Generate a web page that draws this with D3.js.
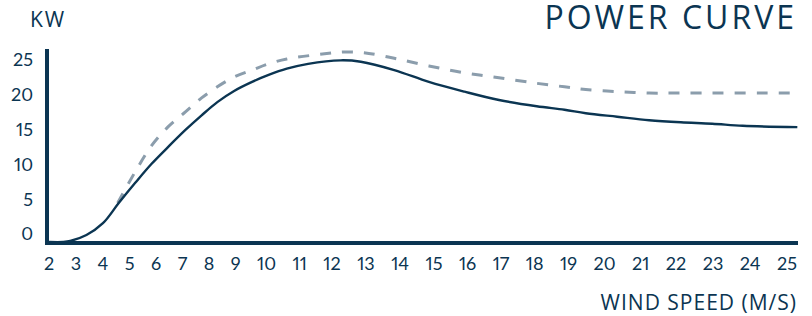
<!DOCTYPE html>
<html>
<head>
<meta charset="utf-8">
<script src="https://cdn.jsdelivr.net/npm/d3@7"></script>
<style>
  body { margin: 0; background: #fff; }
  svg text { font-family: "Open Sans", sans-serif; fill: #0b3552; }
  svg text.tick { font-family: Lato, sans-serif; font-feature-settings: "pnum" 1, "tnum" 0; }
</style>
</head>
<body>
<div id="chart"></div>
<script>
const width = 812, height = 316
const ink = "#0b3552"
const dashInk = "#8b9dac"

// wind speed tick labels (m/s)
const speedTicks = d3.range(2, 26)
// kW tick labels
const powerTicks = [0, 5, 10, 15, 20, 25]

// solid curve
const solidSpeed = [2.0, 2.52, 2.79, 3.39, 4.0, 4.59, 5.21, 5.82, 6.44, 7.11, 7.72, 8.31, 8.94, 9.53, 10.06, 10.61, 11.26, 12.26, 12.85, 13.83, 14.85, 15.91, 16.94, 18.06, 18.88, 19.48, 20.35, 21.24, 22.13, 22.98, 23.8, 25.28]
const solidPower = [0, 0, 0.14, 1.0, 2.7, 5.6, 8.5, 11.2, 13.6, 16.1, 18.2, 20.1, 21.7, 23.0, 24.0, 24.9, 25.6, 26.1, 25.9, 24.7, 23.0, 21.6, 20.4, 19.5, 19.0, 18.5, 18.0, 17.5, 17.2, 17.0, 16.7, 16.5]

// dashed curve
const dashSpeed = [4.55, 5.21, 5.82, 6.44, 7.11, 7.72, 8.31, 8.94, 9.53, 10.06, 10.61, 11.7, 12.35, 12.94, 13.83, 14.85, 15.91, 16.94, 18.06, 18.88, 19.48, 20.35, 21.24, 22.13, 25.28]
const dashPower = [5.6, 10.1, 13.8, 16.5, 18.7, 20.7, 22.3, 23.7, 24.7, 25.6, 26.3, 27.0, 27.3, 27.2, 26.4, 25.3, 24.3, 23.6, 22.8, 22.3, 21.9, 21.6, 21.4, 21.4, 21.4]

const plot = {left: 47, right: 798, top: 49, bottom: 243}

const svg = d3.select("#chart")
  .append("svg")
    .attr("width", width)
    .attr("height", height)

// y scale: 0 sits on the baseline, labels float a little above their value
const y = d3.scaleLinear()
  .domain([0, 25])
  .range([242, 68])

// x tick labels are spread edge to edge (justified), the scale follows them
const xLabels = svg.append("g")
  .selectAll("text")
  .data(speedTicks)
  .enter()
  .append("text")
    .attr("class", "tick")
    .attr("y", 270)
    .attr("text-anchor", "middle")
    .style("font-size", "18px")
    .text(d => d)

const widths = xLabels.nodes().map(n => n.getComputedTextLength())
const spanLeft = 44, spanRight = 797
const gap = (spanRight - spanLeft - d3.sum(widths)) / (widths.length - 1)
const centers = []
let cursor = spanLeft
widths.forEach(w => {
  centers.push(cursor + w / 2)
  cursor += w + gap
})

const x = d3.scaleLinear()
  .domain(speedTicks)
  .range(centers)

xLabels.attr("x", d => x(d))

// y tick labels
svg.append("g")
  .selectAll("text")
  .data(powerTicks)
  .enter()
  .append("text")
    .attr("class", "tick")
    .attr("x", 33)
    .attr("y", d => y(d) - 8)
    .attr("dy", "0.35em")
    .attr("text-anchor", "end")
    .style("font-size", "18px")
    .text(d => d)

// axes lines
svg.append("line")
  .attr("x1", plot.left).attr("x2", plot.left)
  .attr("y1", plot.top).attr("y2", plot.bottom + 2)
  .attr("stroke", ink)
  .attr("stroke-width", 4)

svg.append("line")
  .attr("x1", plot.left - 2).attr("x2", plot.right)
  .attr("y1", plot.bottom).attr("y2", plot.bottom)
  .attr("stroke", ink)
  .attr("stroke-width", 4)

const line = d3.line()
  .x(d => x(d[0]))
  .y(d => y(d[1]))
  .curve(d3.curveCatmullRom.alpha(0.5))

svg.append("path")
  .datum(d3.zip(dashSpeed, dashPower))
  .attr("fill", "none")
  .attr("stroke", dashInk)
  .attr("stroke-width", 3)
  .attr("stroke-dasharray", "11,11")
  .attr("d", line)

svg.append("path")
  .datum(d3.zip(solidSpeed, solidPower))
  .attr("fill", "none")
  .attr("stroke", ink)
  .attr("stroke-width", 2.4)
  .attr("d", line)

// titles
svg.append("text")
  .attr("x", 797)
  .attr("y", 29)
  .attr("text-anchor", "end")
  .style("font-size", "32px")
  .style("letter-spacing", "3px")
  .text("POWER CURVE")

svg.append("text")
  .attr("x", 30)
  .attr("y", 27)
  .style("font-size", "21px")
  .style("letter-spacing", "2px")
  .text("KW")

svg.append("text")
  .attr("x", 797)
  .attr("y", 310)
  .attr("text-anchor", "end")
  .style("font-size", "21px")
  .style("letter-spacing", "1px")
  .text("WIND SPEED (M/S)")
</script>
</body>
</html>
